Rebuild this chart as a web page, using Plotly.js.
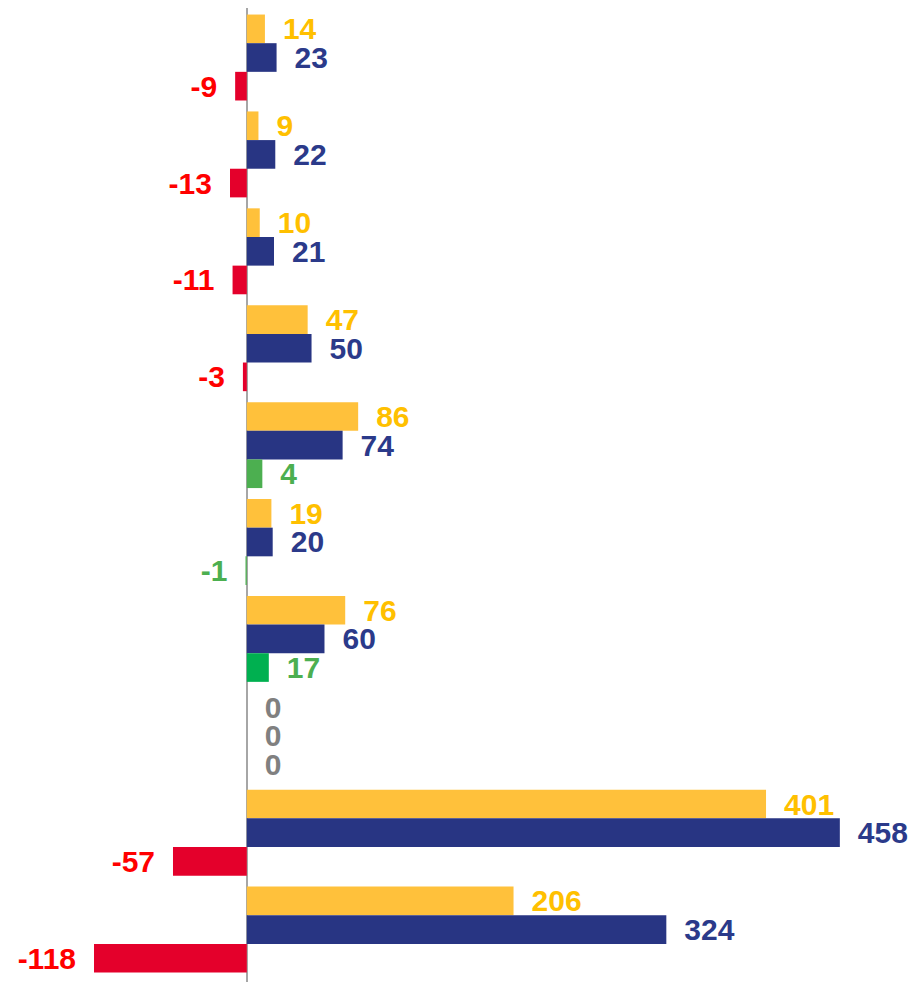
<!DOCTYPE html>
<html>
<head>
<meta charset="utf-8">
<script src="https://cdn.plot.ly/plotly-3.0.1.min.js"></script>
<style>html,body{margin:0;padding:0;background:#fff;}#chart{width:913px;height:982px;}</style>
</head>
<body>
<div id="chart"></div>
<script>
// ---- data ----
const categories = ["C1","C2","C3","C4","C5","C6","C7","C8","C9","C10"];
const yellowValues = [14, 9, 10, 47, 86, 19, 76, 0, 401, 206];
const navyValues   = [23, 22, 21, 50, 74, 20, 60, 0, 458, 324];
const diffValues   = [-9, -13, -11, -3, 12, -1, 17, 0, -57, -118];
const diffLabels   = [-9, -13, -11, -3, 4, -1, 17, 0, -57, -118];

// ---- styles ----
const YELLOW_BAR = '#FFC13B', YELLOW_TXT = '#FFC000';
const NAVY_BAR = '#283583', NAVY_TXT = '#2B3A8A';
const RED_BAR = '#E4002B', RED_TXT = '#FF0000';
const GREEN_TXT = '#4CAF50';
const GREY_TXT = '#808080';
const diffBarColors = [RED_BAR, RED_BAR, RED_BAR, RED_BAR, '#4CAF50', '#4CAF50', '#00B050', GREY_TXT, RED_BAR, RED_BAR];
const diffTxtColors = [RED_TXT, RED_TXT, RED_TXT, RED_TXT, GREEN_TXT, GREEN_TXT, GREEN_TXT, GREY_TXT, RED_TXT, RED_TXT];

const PAD = '\u2002';
function padText(vals, labels) {
  return vals.map((v, i) => v < 0 ? labels[i] + PAD : PAD + labels[i]);
}
const font = {family: 'Liberation Sans, Arial, sans-serif', size: 30, weight: 700};

function barTrace(vals, labels, barColor, txtColors) {
  return {
    type: 'bar', orientation: 'h', y: categories, x: vals,
    marker: {color: barColor},
    text: padText(vals, labels), textposition: 'outside',
    textfont: Object.assign({}, font, {color: txtColors}),
    constraintext: 'none', cliponaxis: false, hoverinfo: 'skip'
  };
}

const traces = [
  barTrace(yellowValues, yellowValues, YELLOW_BAR, yellowValues.map(v => v === 0 ? GREY_TXT : YELLOW_TXT)),
  barTrace(navyValues, navyValues, NAVY_BAR, navyValues.map(v => v === 0 ? GREY_TXT : NAVY_TXT)),
  barTrace(diffValues, diffLabels, diffBarColors, diffTxtColors)
];

const layout = {
  width: 913, height: 982,
  margin: {l: 0, r: 0, t: 8, b: 0},
  paper_bgcolor: '#fff', plot_bgcolor: '#fff',
  showlegend: false,
  barmode: 'group', bargap: 0.113, bargroupgap: 0,
  xaxis: {range: [-190.6, 514.5], showgrid: false, showticklabels: false, ticks: '',
          zeroline: true, zerolinecolor: '#A6A6A6', zerolinewidth: 2, fixedrange: true},
  yaxis: {type: 'category', range: [9.541, -0.511], showgrid: false, showticklabels: false,
          ticks: '', zeroline: false, fixedrange: true}
};

Plotly.newPlot('chart', traces, layout, {staticPlot: true, displayModeBar: false});
</script>
</body>
</html>
